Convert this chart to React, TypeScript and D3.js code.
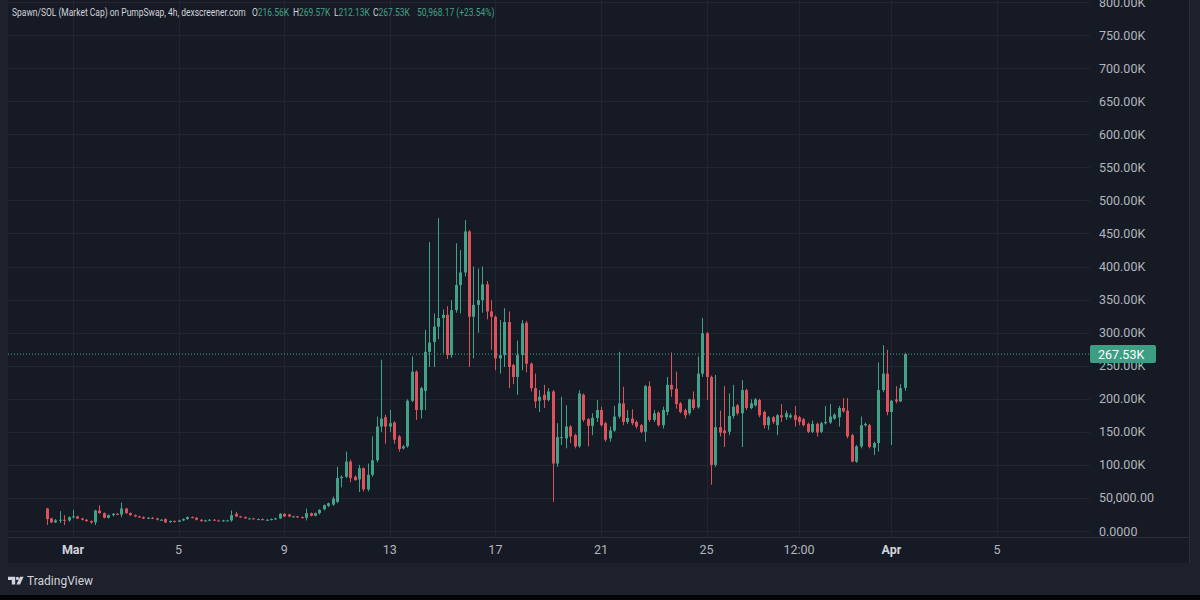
import { useEffect, useRef } from "react";
import * as d3 from "d3";

// 4h candles, market cap in thousands, first bar Feb 28 00:00 UTC
const firstBar = Date.UTC(2025, 1, 28, 0);
const barMs = 4 * 3600 * 1000;

const opens = [
  34, 19, 13, 16, 17, 16, 21, 22, 19, 17,
  15, 13, 31, 27, 20, 24, 26, 25, 34, 27,
  24, 22, 21, 19, 20, 19, 17, 18, 14, 15,
  14, 16, 18, 21, 20, 17, 15, 16, 17, 16,
  15, 16, 16, 26, 22, 21, 19, 19, 18, 18,
  17, 17, 18, 19, 26, 25, 22, 22, 21, 20,
  27, 23, 27, 33, 38, 40, 44, 80, 82, 105,
  82, 78, 95, 63, 85, 107, 158, 172, 158, 164,
  143, 125, 128, 197, 241, 183, 212, 271, 286, 309,
  322, 327, 266, 334, 372, 391, 453, 324, 342, 349,
  373, 332, 324, 261, 266, 316, 251, 233, 266, 315,
  253, 216, 197, 206, 198, 211, 102, 141, 140, 158,
  145, 128, 206, 169, 159, 171, 183, 163, 140, 152,
  173, 193, 165, 170, 165, 160, 150, 219, 168, 179,
  160, 180, 221, 215, 193, 183, 178, 199, 187, 238,
  299, 233, 100, 157, 152, 150, 174, 190, 178, 213,
  186, 190, 198, 180, 160, 172, 160, 175, 172, 172,
  175, 172, 169, 162, 150, 162, 150, 163, 164, 170,
  172, 186, 182, 145, 105, 128, 160, 160, 126, 133,
  213, 238, 180, 199, 196, 216.56,
];

const highs = [
  35, 20, 18, 30, 24, 22, 32, 23, 20, 18,
  16, 32, 39, 28, 25, 27, 27, 43, 35, 28,
  25, 23, 22, 21, 21, 20, 18, 19, 16, 16,
  17, 19, 22, 22, 21, 18, 17, 18, 18, 17,
  17, 17, 31, 29, 23, 22, 20, 20, 19, 19,
  18, 19, 20, 27, 27, 26, 23, 23, 22, 34,
  28, 28, 33, 40, 43, 52, 97, 84, 120, 108,
  84, 100, 96, 102, 143, 173, 259, 176, 183, 166,
  145, 130, 199, 264, 243, 218, 304, 437, 329, 473,
  335, 340, 349, 435, 425, 470, 455, 400, 397, 400,
  378, 349, 326, 319, 337, 332, 253, 288, 319, 318,
  255, 238, 213, 221, 216, 213, 163, 203, 190, 160,
  147, 213, 208, 171, 178, 198, 188, 165, 158, 189,
  271, 218, 183, 184, 167, 162, 221, 226, 183, 181,
  188, 233, 270, 241, 195, 185, 200, 211, 264, 322,
  301, 235, 236, 182, 219, 208, 221, 192, 228, 215,
  199, 201, 200, 182, 174, 174, 177, 192, 182, 178,
  189, 174, 171, 164, 167, 164, 165, 189, 192, 178,
  189, 201, 201, 147, 130, 173, 164, 162, 135, 255,
  281, 274, 198, 219, 222, 269.57,
];

const lows = [
  9, 12, 12, 12, 9, 14, 19, 18, 16, 14,
  11, 9, 26, 19, 19, 22, 24, 21, 26, 23,
  21, 20, 18, 18, 18, 16, 16, 12, 12, 13,
  14, 15, 17, 19, 16, 14, 14, 15, 16, 15,
  14, 15, 14, 21, 20, 19, 18, 18, 17, 16,
  16, 16, 17, 18, 21, 21, 21, 20, 19, 16,
  22, 22, 25, 31, 36, 38, 42, 66, 80, 74,
  76, 59, 60, 60, 82, 104, 150, 132, 150, 132,
  120, 123, 126, 195, 168, 170, 183, 248, 248, 290,
  269, 260, 262, 330, 329, 385, 248, 261, 300, 330,
  320, 274, 243, 238, 248, 216, 222, 206, 243, 240,
  211, 186, 180, 186, 196, 44, 97, 130, 125, 133,
  125, 126, 165, 128, 145, 165, 158, 135, 135, 150,
  170, 160, 162, 160, 155, 148, 135, 165, 165, 158,
  155, 175, 203, 185, 178, 170, 175, 183, 185, 233,
  198, 70, 97, 143, 127, 145, 170, 175, 127, 183,
  184, 188, 172, 155, 153, 162, 145, 165, 168, 170,
  158, 160, 158, 148, 148, 143, 148, 161, 162, 168,
  158, 179, 140, 104, 103, 125, 158, 125, 115, 120,
  210, 175, 130, 193, 195, 212.13,
];

const closes = [
  18, 13, 16, 17, 16, 21, 22, 19, 17, 15,
  13, 31, 27, 20, 24, 26, 25, 34, 27, 24,
  22, 21, 19, 20, 19, 17, 17, 13, 15, 14,
  16, 18, 21, 20, 17, 15, 16, 17, 16, 15,
  16, 16, 24, 22, 21, 19, 19, 18, 18, 17,
  17, 18, 19, 26, 22, 22, 22, 21, 20, 27,
  23, 27, 32, 39, 42, 49, 80, 82, 105, 80,
  77, 95, 63, 85, 107, 158, 170, 158, 163, 138,
  124, 128, 197, 241, 183, 216, 271, 285, 309, 322,
  327, 266, 334, 372, 391, 453, 324, 342, 349, 373,
  332, 324, 261, 266, 316, 248, 233, 266, 314, 253,
  216, 196, 203, 198, 211, 102, 142, 142, 158, 143,
  128, 208, 168, 159, 171, 183, 160, 138, 152, 173,
  193, 165, 171, 163, 158, 150, 219, 168, 178, 160,
  183, 221, 214, 192, 180, 175, 199, 186, 238, 299,
  233, 100, 157, 149, 148, 174, 188, 178, 213, 186,
  193, 199, 175, 160, 172, 165, 175, 172, 178, 175,
  168, 165, 160, 150, 162, 149, 163, 165, 173, 176,
  186, 181, 143, 105, 128, 160, 162, 127, 133, 213,
  238, 180, 197, 196, 216, 267.53,
];

const priceTicks = [0, 50, 100, 150, 200, 250, 300, 350, 400, 450, 500, 550, 600, 650, 700, 750, 800];
const timeTicks = [
  Date.UTC(2025, 2, 1), Date.UTC(2025, 2, 5), Date.UTC(2025, 2, 9), Date.UTC(2025, 2, 13),
  Date.UTC(2025, 2, 17), Date.UTC(2025, 2, 21), Date.UTC(2025, 2, 25), Date.UTC(2025, 2, 28, 12),
  Date.UTC(2025, 3, 1), Date.UTC(2025, 3, 5),
];
const timeLabels = ["Mar", "5", "9", "13", "17", "21", "25", "12:00", "Apr", "5"];

const title = "Spawn/SOL (Market Cap) on PumpSwap, 4h, dexscreener.com";
const lastPrice = 267.53;
const changeText = "50,968.17 (+23.54%)";

const UP = "#42a288";
const DOWN = "#dd525a";
const TEXT = "#b2b5be";
const FONT = "Roboto, 'Open Sans', sans-serif";

function priceLabel(v: number) {
  if (v === 0) return "0.0000";
  if (v < 100) return d3.format(",.2f")(v * 1000);
  return `${v.toFixed(2)}K`;
}

export default function App() {
  const ref = useRef<SVGSVGElement | null>(null);

  useEffect(() => {
    if (!ref.current) return;
    const W = 1200;
    const H = 600;
    const left = 8;
    const plotRight = 1090;
    const paneRight = 1190;
    const plotBottom = 537;
    const paneBottom = 563;

    const svg = d3.select(ref.current);
    svg.selectAll("*").remove();
    svg.attr("width", W).attr("height", H);

    const x = d3.scaleUtc()
      .domain([new Date(Date.UTC(2025, 2, 1)), new Date(Date.UTC(2025, 3, 5))])
      .range([73, 997]);
    const y = d3.scaleLinear().domain([0, 800]).range([531, 2]);

    // backgrounds
    svg.append("rect").attr("width", W).attr("height", H).attr("fill", "#1e212b");
    svg.append("rect").attr("y", 595).attr("width", W).attr("height", 5).attr("fill", "#050507");
    svg.append("rect").attr("x", left).attr("y", 0).attr("width", paneRight - left)
      .attr("height", paneBottom).attr("fill", "#161a24");

    // grid
    const grid = svg.append("g").attr("stroke", "#212531").attr("stroke-width", 1);
    grid.selectAll("line.h").data(priceTicks).join("line")
      .attr("x1", left).attr("x2", plotRight)
      .attr("y1", (d) => Math.round(y(d)) + 0.5).attr("y2", (d) => Math.round(y(d)) + 0.5);
    grid.selectAll("line.v").data(timeTicks).join("line")
      .attr("x1", (d) => Math.round(x(new Date(d))) + 0.5).attr("x2", (d) => Math.round(x(new Date(d))) + 0.5)
      .attr("y1", 0).attr("y2", plotBottom);

    svg.append("line").attr("x1", left).attr("x2", paneRight)
      .attr("y1", plotBottom + 0.5).attr("y2", plotBottom + 0.5).attr("stroke", "#2a2e39");
    svg.append("line").attr("x1", paneRight - 0.5).attr("x2", paneRight - 0.5)
      .attr("y1", 0).attr("y2", paneBottom).attr("stroke", "#2a2e39");

    // candles
    const bars = d3.range(opens.length).map((i) => ({
      t: new Date(firstBar + i * barMs),
      o: opens[i], h: highs[i], l: lows[i], c: closes[i],
    }));
    const bodyW = 3;
    const g = svg.append("g");
    const candle = g.selectAll("g").data(bars).join("g")
      .attr("fill", (d) => (d.c >= d.o ? UP : DOWN))
      .attr("stroke", (d) => (d.c >= d.o ? UP : DOWN));
    candle.append("line")
      .attr("x1", (d) => Math.round(x(d.t)) + 0.5).attr("x2", (d) => Math.round(x(d.t)) + 0.5)
      .attr("y1", (d) => y(d.h)).attr("y2", (d) => y(d.l))
      .attr("stroke-width", 1);
    candle.append("rect")
      .attr("stroke", "none")
      .attr("x", (d) => Math.round(x(d.t)) - 1)
      .attr("width", bodyW)
      .attr("y", (d) => y(Math.max(d.o, d.c)))
      .attr("height", (d) => Math.max(1, Math.abs(y(d.o) - y(d.c))));

    // last price line
    svg.append("line").attr("x1", left).attr("x2", plotRight)
      .attr("y1", y(lastPrice)).attr("y2", y(lastPrice))
      .attr("stroke", UP).attr("stroke-width", 1).attr("stroke-dasharray", "1,2");

    // price axis labels
    svg.append("g").selectAll("text").data(priceTicks).join("text")
      .attr("x", 1099).attr("y", (d) => y(d)).attr("dy", "0.36em")
      .attr("font-family", FONT).attr("font-size", 12.5).attr("fill", TEXT)
      .text((d) => priceLabel(d));

    svg.append("rect").attr("x", plotRight).attr("y", y(lastPrice) - 9)
      .attr("width", 66).attr("height", 18).attr("rx", 2).attr("fill", "#3d9e83");
    svg.append("text").attr("x", 1098).attr("y", y(lastPrice)).attr("dy", "0.36em")
      .attr("font-family", FONT).attr("font-size", 12.5).attr("fill", "#ffffff")
      .text(`${lastPrice.toFixed(2)}K`);

    // time axis labels
    svg.append("g").selectAll("text").data(timeTicks).join("text")
      .attr("x", (d) => x(new Date(d))).attr("y", 549).attr("dy", "0.36em")
      .attr("text-anchor", "middle")
      .attr("font-family", FONT).attr("font-size", 12.5)
      .attr("font-weight", (_, i) => (timeLabels[i] === "Mar" || timeLabels[i] === "Apr" ? 700 : 400))
      .attr("fill", (_, i) => (timeLabels[i] === "Mar" || timeLabels[i] === "Apr" ? "#d1d4dc" : TEXT))
      .text((_, i) => timeLabels[i]);

    // header legend: condensed by a horizontal scale so the title spans like the reference
    const head = svg.append("g").attr("font-family", FONT).attr("font-size", 11.5);
    const titleText = head.append("text").attr("x", 0).attr("y", 16.5).attr("fill", "#d1d4dc").text(title);
    const natural = (titleText.node() as SVGTextElement).getComputedTextLength();
    const sx = 234 / natural;
    head.attr("transform", `translate(12,0) scale(${sx},1)`);
    const local = (px: number) => (px - 12) / sx;
    const ohlc = [
      { k: "O", v: opens[opens.length - 1], at: 252 },
      { k: "H", v: highs[highs.length - 1], at: 293 },
      { k: "L", v: lows[lows.length - 1], at: 334 },
      { k: "C", v: closes[closes.length - 1], at: 373 },
    ];
    ohlc.forEach((d) => {
      const t = head.append("text").attr("x", local(d.at)).attr("y", 16.5);
      t.append("tspan").attr("fill", "#d1d4dc").text(d.k);
      t.append("tspan").attr("fill", UP).text(`${d.v.toFixed(2)}K`);
    });
    head.append("text").attr("x", local(417)).attr("y", 16.5).attr("fill", UP).text(changeText);

    // TradingView mark
    const logo = svg.append("g").attr("fill", "#d1d4dc");
    logo.append("path").attr("d", "M8,576.8 h7.2 v7.6 h-3.4 v-4.4 h-3.8 z");
    logo.append("circle").attr("cx", 17.4).attr("cy", 578.4).attr("r", 1.6);
    logo.append("path").attr("d", "M20,576.8 h3.6 l-3.6,7.6 h-3.6 z");
    logo.append("text").attr("x", 27).attr("y", 580.5).attr("dy", "0.36em")
      .attr("font-family", FONT).attr("font-size", 12).attr("fill", "#d1d4dc")
      .text("TradingView");
  }, []);

  return (
    <svg
      ref={(el) => { if (el) ref.current = el; }}
      style={{ position: "absolute", left: 0, top: 0, display: "block" }}
    />
  );
}
